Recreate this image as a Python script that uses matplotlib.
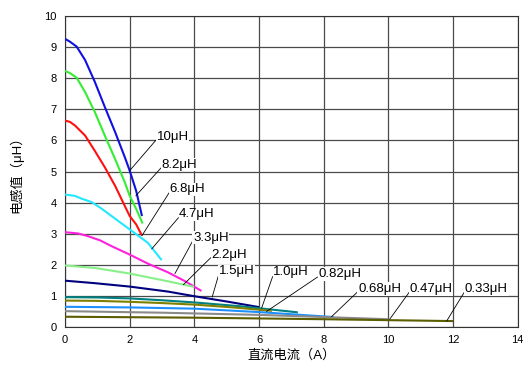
import matplotlib.pyplot as plt

plt.rcParams['font.family'] = ['Liberation Sans', 'Noto Sans CJK SC', 'DejaVu Sans']

# 每条曲线: 名称, 电流(A), 电感(μH)
names = ['10μH', '8.2μH', '6.8μH', '4.7μH', '3.3μH', '2.2μH',
         '1.5μH', '1.0μH', '0.82μH', '0.68μH', '0.47μH', '0.33μH']
currents = [
    [0, 0.15, 0.36, 0.62, 0.92, 1.23, 1.55, 1.85, 2.0, 2.2, 2.38],
    [0, 0.15, 0.36, 0.62, 0.92, 1.23, 1.55, 1.85, 2.0, 2.2, 2.4],
    [0, 0.15, 0.31, 0.62, 0.92, 1.23, 1.55, 1.85, 2.0, 2.2, 2.38],
    [0, 0.3, 0.51, 0.82, 1.1, 1.44, 2.0, 2.56, 2.99],
    [0, 0.4, 0.72, 1.1, 1.44, 2.0, 2.56, 3.18, 3.7, 4.22],
    [0, 0.92, 2.0, 3.18, 3.99],
    [0, 0.92, 2.0, 3.18, 4.0, 5.0, 6.0],
    [0, 1.0, 2.0, 3.0, 4.0, 5.5, 7.2],
    [0, 1.0, 2.0, 3.0, 4.0, 5.2, 6.4],
    [0, 2.0, 4.0, 6.0, 8.3],
    [0, 3.0, 6.0, 10.0],
    [0, 4.0, 8.0, 12.0],
]
inductance = [
    [9.27, 9.18, 9.02, 8.59, 7.89, 7.08, 6.27, 5.46, 5.03, 4.38, 3.57],
    [8.24, 8.17, 8.02, 7.56, 6.92, 6.16, 5.40, 4.65, 4.22, 3.8, 3.33],
    [6.64, 6.6, 6.48, 6.16, 5.67, 5.14, 4.54, 3.89, 3.57, 3.3, 2.94],
    [4.26, 4.22, 4.13, 4.02, 3.83, 3.57, 3.14, 2.71, 2.15],
    [3.05, 3.01, 2.92, 2.78, 2.60, 2.33, 2.04, 1.76, 1.48, 1.16],
    [1.98, 1.90, 1.72, 1.47, 1.29],
    [1.49, 1.41, 1.30, 1.14, 0.99, 0.82, 0.64],
    [0.96, 0.95, 0.92, 0.86, 0.79, 0.66, 0.47],
    [0.85, 0.84, 0.81, 0.77, 0.72, 0.63, 0.52],
    [0.65, 0.63, 0.59, 0.48, 0.32],
    [0.51, 0.46, 0.39, 0.25],
    [0.33, 0.30, 0.25, 0.19],
]
colors = ['#1010e0', '#33ee33', '#ff1010', '#22e8ff', '#ff22dd', '#88f088',
          '#000080', '#008080', '#808000', '#1e8fff', '#8a8a8a', '#5c5c00']

# 标注: 引线起点(曲线上) -> 文字位置
label_points = [(2.0, 5.03), (2.19, 4.22), (2.38, 2.94), (2.68, 2.51), (3.40, 1.72),
                (3.66, 1.36), (4.55, 0.96), (6.08, 0.61), (6.23, 0.50), (8.24, 0.33),
                (10.04, 0.25), (11.8, 0.19)]
label_text_pos = [(2.83, 6.11), (2.99, 5.22), (3.24, 4.43), (3.53, 3.62), (3.96, 2.87),
                  (4.53, 2.33), (4.76, 1.79), (6.44, 1.76), (7.83, 1.70), (9.06, 1.22),
                  (10.66, 1.22), (12.36, 1.22)]

fig = plt.figure(figsize=(5.23, 3.67), dpi=100)
ax = fig.add_axes([0.1243, 0.109, 0.8657, 0.847])

for xs, ys, c in zip(currents, inductance, colors):
    ax.plot(xs, ys, color=c, lw=1.5, zorder=3, solid_capstyle='butt')

for name, p, t in zip(names, label_points, label_text_pos):
    ax.annotate(name, xy=p, xytext=t, fontsize=9.5, ha='left', va='center',
                bbox=dict(boxstyle='square,pad=0.05', fc='white', ec='none'),
                arrowprops=dict(arrowstyle='-', color='black', lw=0.6,
                                shrinkA=0, shrinkB=0, relpos=(0, 0.3)),
                zorder=4)

ax.set_xlim(0, 14)
ax.set_ylim(0, 10)
ax.set_xticks(range(0, 15, 2))
ax.set_yticks(range(0, 11))
ax.grid(True, color='#4a4a4a', lw=0.9)
ax.set_axisbelow(True)
ax.tick_params(length=0, labelsize=8, pad=6)
for s in ax.spines.values():
    s.set_color('#333333')
ax.set_xlabel('直流电流（A）', fontsize=9.5, labelpad=3)
ax.set_ylabel('电感值（μH）', fontsize=9.5, labelpad=15)

fig.savefig('out.png', dpi=100)
